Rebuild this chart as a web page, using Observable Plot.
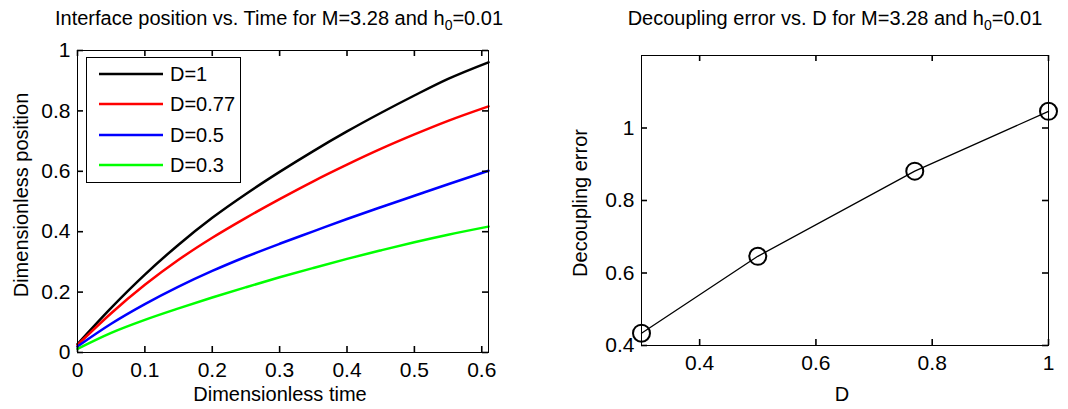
<!DOCTYPE html>
<html><head><meta charset="utf-8">
<script src="https://cdn.jsdelivr.net/npm/d3@7"></script>
<script src="https://cdn.jsdelivr.net/npm/@observablehq/plot@0.6"></script>
<style>
body{margin:0;background:#fff;font-family:"Liberation Sans",Arial,sans-serif;}
#wrap{position:relative;width:1068px;height:409px;overflow:hidden;background:#fff;}
.abs{position:absolute;white-space:nowrap;color:#000;line-height:20px;font-size:20px;}
.hc{transform:translateX(-50%);}
.rot{transform:translate(-50%,-50%) rotate(-90deg);}
sub{font-size:14px;vertical-align:-5px;line-height:0;}
#legend{position:absolute;left:86px;top:57px;width:155px;height:126px;border:1px solid #000;background:#fff;box-sizing:border-box;}
.lrow{position:absolute;left:0;height:24px;width:155px;}
.lrow svg{position:absolute;left:12px;top:10px;}
.lrow span{position:absolute;left:83px;top:2px;font-size:20px;line-height:20px;}
#left,#right{position:absolute;top:0;}
#left{left:0;} #right{left:534px;}
</style></head>
<body><div id="wrap">
<div id="left"></div><div id="right"></div>
<div class="abs hc" style="left:279px;top:8px;">Interface position vs. Time for M=3.28 and h<sub>0</sub>=0.01</div>
<div class="abs hc" style="left:835px;top:8px;">Decoupling error vs. D for M=3.28 and h<sub>0</sub>=0.01</div>
<div class="abs hc" style="left:280px;top:384px;">Dimensionless time</div>
<div class="abs hc" style="left:842px;top:384px;">D</div>
<div class="abs rot" style="left:21px;top:195px;">Dimensionless position</div>
<div class="abs rot" style="left:580px;top:203px;">Decoupling error</div>
<div id="legend"></div>
</div>
<script>
// Left chart data
const time = [0, 0.05, 0.1, 0.15, 0.2, 0.25, 0.3, 0.35, 0.4, 0.45, 0.5, 0.55, 0.61];
const posD1   = [0.028, 0.148, 0.258, 0.357, 0.446, 0.525, 0.598, 0.667, 0.732, 0.793, 0.851, 0.906, 0.961];
const posD077 = [0.025, 0.13, 0.224, 0.307, 0.38, 0.446, 0.508, 0.567, 0.622, 0.674, 0.722, 0.767, 0.815];
const posD05  = [0.02, 0.095, 0.16, 0.218, 0.27, 0.317, 0.36, 0.401, 0.442, 0.481, 0.519, 0.557, 0.602];
const posD03  = [0.012, 0.065, 0.108, 0.146, 0.182, 0.216, 0.249, 0.28, 0.31, 0.338, 0.365, 0.39, 0.417];
const seriesLabels = ["D=1", "D=0.77", "D=0.5", "D=0.3"];
const seriesColors = ["#000000", "#ff0000", "#0000ff", "#00ff00"];
const xTicksLeft = [0, 0.1, 0.2, 0.3, 0.4, 0.5, 0.6];
const yTicksLeft = [0, 0.2, 0.4, 0.6, 0.8, 1];

// Right chart data
const dValues = [0.3, 0.5, 0.77, 1];
const decouplingError = [0.434, 0.646, 0.881, 1.046];
const xTicksRight = [0.4, 0.6, 0.8, 1];
const yTicksRight = [0.4, 0.6, 0.8, 1];

const seriesValues = [posD1, posD077, posD05, posD03];
const rows = seriesLabels.flatMap((s, i) => time.map((t, j) => ({t, pos: seriesValues[i][j], series: s})));
const errRows = dValues.map((d, i) => ({d, err: decouplingError[i]}));
const fmt = d => String(d);
const style = {fontFamily: '"Liberation Sans", Arial, sans-serif', fontSize: "21px", color: "#000", background: "transparent", overflow: "visible"};
const T = 6;

function frameAxes(xt, yt, xd, yd, m, W, H) {
  const iw = W - m.marginLeft - m.marginRight;
  const ih = H - m.marginTop - m.marginBottom;
  const ky = T / ih * (yd[1] - yd[0]);
  const kx = T / iw * (xd[1] - xd[0]);
  const tk = {stroke: "#000", strokeWidth: 1.6};
  return [
    Plot.frame({stroke: "#000", strokeWidth: 1}),
    Plot.ruleX(xt, {x: d => d, y1: yd[0], y2: yd[0] + ky, ...tk}),
    Plot.ruleX(xt, {x: d => d, y1: yd[1] - ky, y2: yd[1], ...tk}),
    Plot.ruleY(yt, {y: d => d, x1: xd[0], x2: xd[0] + kx, ...tk}),
    Plot.ruleY(yt, {y: d => d, x1: xd[1] - kx, x2: xd[1], ...tk}),
    Plot.axisX(xt, {anchor: "bottom", tickSize: 0, tickPadding: 10, tickFormat: fmt, label: null, fontSize: 21}),
    Plot.axisY(yt, {anchor: "left", tickSize: 0, tickPadding: 7, tickFormat: fmt, label: null, fontSize: 21})
  ];
}

const mLeft = {marginLeft: 77, marginRight: 46, marginTop: 50, marginBottom: 57};
const xdL = [0, 0.61], ydL = [0, 1];
const left = Plot.plot({
  width: 534, height: 409, ...mLeft,
  style,
  x: {domain: xdL},
  y: {domain: ydL},
  color: {domain: seriesLabels, range: seriesColors},
  marks: [
    Plot.line(rows, {x: "t", y: "pos", z: "series", stroke: "series", strokeWidth: 2.5, curve: "monotone-x"}),
    ...frameAxes(xTicksLeft, yTicksLeft, xdL, ydL, mLeft, 534, 409)
  ]
});
document.getElementById("left").append(left);

const mRight = {marginLeft: 107, marginRight: 20, marginTop: 55, marginBottom: 64};
const xdR = [0.3, 1], ydR = [0.4, 1.2];
const right = Plot.plot({
  width: 534, height: 409, ...mRight,
  style,
  x: {domain: xdR},
  y: {domain: ydR},
  marks: [
    Plot.line(errRows, {x: "d", y: "err", stroke: "#000", strokeWidth: 1.3}),
    Plot.dot(errRows, {x: "d", y: "err", r: 8.5, stroke: "#000", strokeWidth: 2, fill: "none"}),
    ...frameAxes(xTicksRight, yTicksRight, xdR, ydR, mRight, 534, 409)
  ]
});
document.getElementById("right").append(right);

// Legend
const legend = document.getElementById("legend");
const rowTops = [4, 34, 65, 95];
seriesLabels.forEach((s, i) => {
  const row = document.createElement("div");
  row.className = "lrow";
  row.style.top = rowTops[i] + "px";
  row.innerHTML = `<svg width="66" height="4"><line x1="0" y1="2" x2="64" y2="2" stroke="${seriesColors[i]}" stroke-width="2.5"/></svg><span>${s}</span>`;
  legend.append(row);
});
</script>
</body></html>
